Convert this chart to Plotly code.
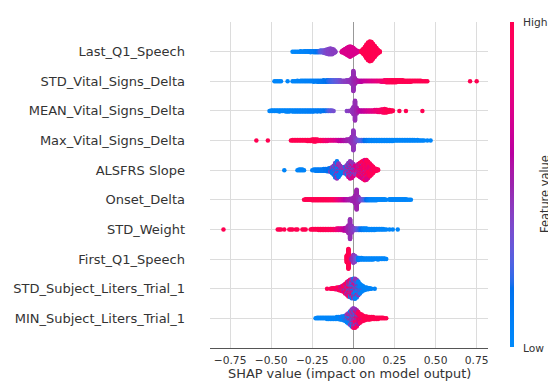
import numpy as np
import plotly.graph_objects as go

# ---------------- data ----------------
# Features, top to bottom
features = [
    "Last_Q1_Speech", "STD_Vital_Signs_Delta", "MEAN_Vital_Signs_Delta",
    "Max_Vital_Signs_Delta", "ALSFRS Slope", "Onset_Delta", "STD_Weight",
    "First_Q1_Speech", "STD_Subject_Liters_Trial_1", "MIN_Subject_Liters_Trial_1",
]
x_ticks = [-0.75, -0.5, -0.25, 0.0, 0.25, 0.5, 0.75]
x_tick_labels = ["\u22120.75", "\u22120.50", "\u22120.25", "0.00", "0.25", "0.50", "0.75"]

# Each entry: (SHAP value, number of samples at that value, feature value 0=low..1=high)
last_q1_speech = [
    (-0.37, 1, 0.02), (-0.36, 1, 0.02), (-0.35, 1, 0.03), (-0.34, 1, 0.03), (-0.33, 1, 0.04),
    (-0.32, 2, 0.04), (-0.31, 1, 0.05), (-0.30, 2, 0.05), (-0.29, 2, 0.06), (-0.28, 2, 0.06),
    (-0.27, 2, 0.07), (-0.26, 3, 0.08), (-0.25, 2, 0.09), (-0.24, 3, 0.10), (-0.23, 3, 0.12),
    (-0.22, 3, 0.15), (-0.21, 3, 0.20), (-0.20, 4, 0.25), (-0.19, 4, 0.30), (-0.18, 5, 0.33),
    (-0.17, 7, 0.36), (-0.16, 9, 0.38), (-0.15, 11, 0.40), (-0.14, 12, 0.40), (-0.13, 11, 0.41),
    (-0.12, 8, 0.42), (-0.11, 3, 0.42),
    (-0.07, 3, 0.72), (-0.06, 6, 0.72), (-0.05, 10, 0.72), (-0.04, 14, 0.72), (-0.03, 18, 0.72),
    (-0.02, 21, 0.72), (-0.01, 18, 0.72), (0.00, 14, 0.72), (0.01, 9, 0.72), (0.02, 5, 0.72),
    (0.03, 2, 0.72),
    (0.05, 4, 1.0), (0.06, 10, 1.0), (0.07, 18, 1.0), (0.08, 28, 1.0), (0.09, 36, 1.0),
    (0.10, 40, 1.0), (0.11, 38, 1.0), (0.12, 30, 1.0), (0.13, 22, 1.0), (0.14, 14, 1.0),
    (0.15, 7, 1.0), (0.16, 3, 1.0),
]
std_vital_signs_delta = [
    (-0.48, 1, 0.03), (-0.47, 1, 0.03), (-0.46, 1, 0.03), (-0.45, 1, 0.03), (-0.44, 1, 0.03),
    (-0.40, 1, 0.03), (-0.37, 1, 0.04), (-0.36, 1, 0.04), (-0.35, 1, 0.04), (-0.34, 2, 0.04),
    (-0.33, 1, 0.05), (-0.32, 2, 0.05), (-0.31, 2, 0.05), (-0.30, 2, 0.05), (-0.29, 2, 0.06),
    (-0.28, 2, 0.06), (-0.27, 2, 0.06), (-0.26, 2, 0.07), (-0.25, 2, 0.07), (-0.24, 3, 0.08),
    (-0.23, 2, 0.08), (-0.22, 3, 0.09), (-0.21, 3, 0.10), (-0.20, 3, 0.11), (-0.19, 3, 0.12),
    (-0.18, 4, 0.14), (-0.17, 3, 0.16), (-0.16, 4, 0.18), (-0.15, 4, 0.20), (-0.14, 4, 0.22),
    (-0.13, 4, 0.24), (-0.12, 4, 0.26), (-0.11, 4, 0.28), (-0.10, 4, 0.30), (-0.09, 4, 0.32),
    (-0.08, 4, 0.35), (-0.07, 3, 0.38), (-0.06, 3, 0.40), (-0.05, 3, 0.42), (-0.04, 4, 0.42),
    (-0.03, 4, 0.44), (-0.02, 6, 0.45), (-0.01, 12, 0.45), (0.00, 40, 0.47), (0.01, 12, 0.50),
    (0.02, 5, 0.52), (0.03, 3, 0.55), (0.04, 3, 0.57), (0.05, 3, 0.60), (0.06, 2, 0.62),
    (0.07, 2, 0.64), (0.08, 2, 0.66), (0.09, 2, 0.68), (0.10, 2, 0.70), (0.11, 2, 0.72),
    (0.12, 2, 0.74), (0.13, 2, 0.76), (0.14, 2, 0.78), (0.15, 2, 0.80), (0.16, 2, 0.82),
    (0.17, 3, 0.84), (0.18, 3, 0.86), (0.19, 4, 0.90), (0.20, 5, 0.93), (0.21, 5, 0.95),
    (0.22, 5, 0.96), (0.23, 5, 0.98), (0.24, 5, 1.0), (0.25, 5, 1.0), (0.26, 5, 1.0),
    (0.27, 4, 1.0), (0.28, 4, 1.0), (0.29, 4, 1.0), (0.30, 4, 1.0), (0.31, 3, 1.0),
    (0.32, 3, 1.0), (0.33, 3, 1.0), (0.34, 3, 1.0), (0.35, 3, 1.0), (0.36, 2, 1.0),
    (0.37, 2, 1.0), (0.38, 2, 1.0), (0.39, 2, 1.0), (0.40, 2, 1.0), (0.41, 2, 1.0),
    (0.42, 1, 1.0), (0.43, 1, 1.0), (0.44, 1, 1.0), (0.45, 1, 1.0), (0.71, 1, 1.0),
    (0.75, 1, 1.0),
]
mean_vital_signs_delta = [
    (-0.51, 1, 0.03), (-0.50, 2, 0.03), (-0.49, 2, 0.03), (-0.48, 2, 0.03), (-0.47, 2, 0.03),
    (-0.46, 2, 0.03), (-0.45, 3, 0.03), (-0.44, 2, 0.04), (-0.43, 2, 0.04), (-0.42, 2, 0.04),
    (-0.41, 3, 0.04), (-0.40, 3, 0.04), (-0.39, 3, 0.05), (-0.38, 2, 0.05), (-0.37, 3, 0.05),
    (-0.36, 3, 0.05), (-0.35, 3, 0.05), (-0.34, 3, 0.06), (-0.33, 3, 0.06), (-0.32, 3, 0.06),
    (-0.31, 3, 0.06), (-0.30, 3, 0.07), (-0.29, 3, 0.07), (-0.28, 3, 0.07), (-0.27, 3, 0.08),
    (-0.26, 3, 0.08), (-0.25, 3, 0.08), (-0.24, 3, 0.09), (-0.23, 2, 0.09), (-0.22, 3, 0.10),
    (-0.21, 2, 0.10), (-0.20, 3, 0.11), (-0.19, 2, 0.12), (-0.18, 2, 0.14), (-0.17, 2, 0.17),
    (-0.16, 2, 0.20), (-0.15, 2, 0.25), (-0.14, 2, 0.30), (-0.13, 2, 0.32), (-0.12, 1, 0.35),
    (-0.04, 1, 0.40), (-0.03, 1, 0.42), (-0.01, 6, 0.45), (0.00, 14, 0.46), (0.01, 40, 0.47),
    (0.02, 12, 0.50), (0.03, 4, 0.55), (0.04, 3, 0.58), (0.05, 3, 0.60), (0.06, 3, 0.62),
    (0.07, 3, 0.65), (0.08, 3, 0.67), (0.09, 3, 0.70), (0.10, 3, 0.72), (0.11, 3, 0.75),
    (0.12, 3, 0.77), (0.13, 4, 0.80), (0.14, 4, 0.82), (0.15, 5, 0.85), (0.16, 5, 0.87),
    (0.17, 6, 0.90), (0.18, 7, 0.92), (0.19, 8, 0.95), (0.20, 7, 0.97), (0.21, 5, 1.0),
    (0.22, 4, 1.0), (0.23, 3, 1.0), (0.24, 2, 1.0), (0.28, 1, 1.0), (0.32, 1, 1.0),
    (0.42, 1, 1.0),
]
max_vital_signs_delta = [
    (-0.59, 1, 1.0), (-0.52, 1, 1.0), (-0.38, 1, 1.0), (-0.37, 2, 1.0), (-0.36, 2, 1.0),
    (-0.35, 2, 1.0), (-0.34, 2, 1.0), (-0.33, 2, 1.0), (-0.32, 2, 1.0), (-0.31, 2, 1.0),
    (-0.30, 2, 1.0), (-0.29, 2, 1.0), (-0.28, 3, 1.0), (-0.27, 3, 1.0), (-0.26, 3, 1.0),
    (-0.25, 4, 1.0), (-0.24, 5, 1.0), (-0.23, 5, 1.0), (-0.22, 4, 0.98), (-0.21, 3, 0.97),
    (-0.20, 3, 0.96), (-0.19, 3, 0.95), (-0.18, 3, 0.90), (-0.17, 3, 0.88), (-0.16, 3, 0.85),
    (-0.15, 2, 0.83), (-0.14, 2, 0.80), (-0.13, 2, 0.78), (-0.12, 2, 0.75), (-0.11, 2, 0.72),
    (-0.10, 2, 0.70), (-0.09, 3, 0.65), (-0.08, 3, 0.62), (-0.07, 3, 0.60), (-0.06, 3, 0.57),
    (-0.05, 3, 0.55), (-0.04, 4, 0.52), (-0.03, 4, 0.50), (-0.02, 6, 0.48), (-0.01, 14, 0.47),
    (0.00, 40, 0.45), (0.01, 10, 0.42), (0.02, 4, 0.38), (0.03, 3, 0.34), (0.04, 3, 0.30),
    (0.05, 3, 0.26), (0.06, 3, 0.22), (0.07, 3, 0.18), (0.08, 3, 0.14), (0.09, 3, 0.10),
    (0.10, 3, 0.06), (0.11, 3, 0.05), (0.12, 3, 0.05), (0.13, 3, 0.04), (0.14, 3, 0.04),
    (0.15, 3, 0.04), (0.16, 3, 0.03), (0.17, 3, 0.03), (0.18, 3, 0.03), (0.19, 3, 0.03),
    (0.20, 3, 0.03), (0.21, 3, 0.03), (0.22, 3, 0.03), (0.23, 3, 0.03), (0.24, 3, 0.03),
    (0.25, 2, 0.03), (0.26, 2, 0.03), (0.27, 2, 0.03), (0.28, 2, 0.03), (0.29, 2, 0.03),
    (0.30, 2, 0.03), (0.31, 2, 0.03), (0.32, 2, 0.03), (0.33, 2, 0.03), (0.34, 2, 0.03),
    (0.35, 2, 0.03), (0.36, 2, 0.03), (0.37, 2, 0.03), (0.38, 1, 0.03), (0.39, 2, 0.03),
    (0.40, 1, 0.03), (0.41, 1, 0.03), (0.42, 1, 0.03), (0.43, 1, 0.03), (0.45, 1, 0.03),
    (0.47, 1, 0.03),
]
alsfrs_slope = [
    (-0.42, 1, 0.05),
    (-0.34, 1, 0.05), (-0.33, 2, 0.05), (-0.32, 2, 0.05), (-0.31, 2, 0.05), (-0.30, 1, 0.05),
    (-0.25, 1, 0.08), (-0.24, 2, 0.08), (-0.23, 3, 0.08), (-0.22, 3, 0.10), (-0.21, 3, 0.10),
    (-0.20, 3, 0.10), (-0.19, 3, 0.12), (-0.18, 4, 0.12), (-0.17, 4, 0.15), (-0.16, 5, 0.15),
    (-0.15, 6, 0.18), (-0.14, 6, 0.15), (-0.14, 2, 0.45), (-0.13, 8, 0.15), (-0.13, 3, 0.45),
    (-0.12, 12, 0.12), (-0.12, 5, 0.45),
    (-0.11, 16, 0.10), (-0.11, 8, 0.45), (-0.11, 3, 0.75),
    (-0.10, 18, 0.10), (-0.10, 10, 0.45), (-0.10, 4, 0.75),
    (-0.09, 14, 0.10), (-0.09, 8, 0.45), (-0.09, 3, 0.75),
    (-0.08, 9, 0.10), (-0.08, 6, 0.45), (-0.08, 2, 0.75),
    (-0.07, 6, 0.10), (-0.07, 5, 0.45),
    (-0.06, 5, 0.10), (-0.06, 5, 0.45),
    (-0.05, 5, 0.10), (-0.05, 6, 0.45), (-0.05, 2, 0.75),
    (-0.04, 6, 0.10), (-0.04, 8, 0.45), (-0.04, 4, 0.75),
    (-0.03, 6, 0.10), (-0.03, 12, 0.45), (-0.03, 8, 0.72),
    (-0.02, 6, 0.10), (-0.02, 14, 0.45), (-0.02, 12, 0.72),
    (-0.01, 5, 0.10), (-0.01, 12, 0.45), (-0.01, 12, 0.72),
    (0.00, 3, 0.10), (0.00, 10, 0.45), (0.00, 10, 0.72),
    (0.01, 2, 0.10), (0.01, 6, 0.45), (0.01, 8, 0.72),
    (0.02, 4, 0.45), (0.02, 8, 0.72), (0.02, 2, 0.97),
    (0.03, 2, 0.10), (0.03, 6, 0.45), (0.03, 8, 0.72), (0.03, 6, 0.97),
    (0.04, 6, 0.45), (0.04, 10, 0.72), (0.04, 10, 0.97),
    (0.05, 4, 0.45), (0.05, 12, 0.72), (0.05, 14, 0.97),
    (0.06, 4, 0.45), (0.06, 12, 0.72), (0.06, 18, 0.97),
    (0.07, 3, 0.45), (0.07, 12, 0.72), (0.07, 22, 0.97),
    (0.08, 2, 0.45), (0.08, 10, 0.72), (0.08, 24, 0.97),
    (0.09, 8, 0.72), (0.09, 22, 0.97),
    (0.10, 6, 0.72), (0.10, 18, 0.97),
    (0.11, 4, 0.72), (0.11, 14, 0.97),
    (0.12, 2, 0.72), (0.12, 10, 0.97),
    (0.13, 6, 0.97), (0.14, 4, 0.97), (0.15, 2, 0.97),
]
onset_delta = [
    (-0.30, 1, 1.0), (-0.29, 2, 1.0), (-0.28, 2, 1.0), (-0.27, 2, 1.0), (-0.26, 2, 1.0),
    (-0.25, 3, 1.0), (-0.24, 3, 1.0), (-0.23, 3, 1.0), (-0.22, 3, 1.0), (-0.21, 3, 1.0),
    (-0.20, 3, 1.0), (-0.19, 3, 1.0), (-0.18, 3, 1.0), (-0.17, 3, 1.0), (-0.16, 3, 0.99),
    (-0.15, 3, 0.98), (-0.14, 3, 0.97), (-0.13, 3, 0.96), (-0.12, 3, 0.95), (-0.11, 3, 0.90),
    (-0.10, 3, 0.85), (-0.09, 3, 0.80), (-0.08, 3, 0.75), (-0.07, 3, 0.70), (-0.06, 3, 0.65),
    (-0.05, 3, 0.60), (-0.04, 3, 0.57), (-0.03, 3, 0.54), (-0.02, 4, 0.52), (-0.01, 5, 0.50),
    (0.00, 8, 0.50), (0.01, 16, 0.50), (0.02, 40, 0.50), (0.03, 12, 0.48), (0.04, 4, 0.42),
    (0.05, 3, 0.36), (0.06, 3, 0.30), (0.07, 3, 0.24), (0.08, 3, 0.18), (0.09, 3, 0.12),
    (0.10, 3, 0.08), (0.11, 3, 0.05), (0.12, 3, 0.04), (0.13, 3, 0.04), (0.14, 3, 0.03),
    (0.15, 2, 0.03), (0.16, 2, 0.03), (0.17, 2, 0.03), (0.18, 2, 0.03), (0.19, 2, 0.03),
    (0.20, 1, 0.03), (0.22, 2, 0.03), (0.23, 2, 0.03), (0.24, 2, 0.03), (0.25, 2, 0.03),
    (0.26, 2, 0.03), (0.27, 2, 0.03), (0.28, 2, 0.03), (0.29, 2, 0.03), (0.30, 2, 0.03),
    (0.31, 2, 0.03), (0.32, 2, 0.03), (0.33, 1, 0.03), (0.34, 1, 0.03), (0.35, 1, 0.03),
]
std_weight = [
    (-0.79, 1, 1.0), (-0.46, 1, 1.0), (-0.45, 1, 1.0), (-0.44, 1, 1.0), (-0.42, 1, 1.0),
    (-0.39, 1, 1.0), (-0.38, 1, 1.0), (-0.37, 1, 1.0), (-0.35, 1, 1.0), (-0.34, 1, 1.0),
    (-0.31, 1, 1.0), (-0.30, 1, 1.0), (-0.29, 1, 1.0), (-0.26, 1, 1.0), (-0.25, 2, 1.0),
    (-0.24, 2, 1.0), (-0.23, 2, 1.0), (-0.22, 2, 1.0), (-0.21, 3, 1.0), (-0.20, 3, 1.0),
    (-0.19, 3, 1.0), (-0.18, 3, 1.0), (-0.17, 3, 0.99), (-0.16, 3, 0.98), (-0.15, 3, 0.97),
    (-0.14, 3, 0.96), (-0.13, 3, 0.95), (-0.12, 3, 0.93), (-0.11, 3, 0.90), (-0.10, 4, 0.85),
    (-0.09, 4, 0.80), (-0.08, 4, 0.75), (-0.07, 4, 0.70), (-0.06, 5, 0.65), (-0.05, 6, 0.60),
    (-0.04, 8, 0.55), (-0.03, 16, 0.50), (-0.02, 40, 0.47), (-0.01, 14, 0.45), (0.00, 6, 0.42),
    (0.01, 4, 0.38), (0.02, 4, 0.32), (0.03, 4, 0.26), (0.04, 4, 0.20), (0.05, 4, 0.14),
    (0.06, 4, 0.08), (0.07, 4, 0.05), (0.08, 4, 0.04), (0.09, 3, 0.04), (0.10, 3, 0.03),
    (0.11, 3, 0.03), (0.12, 3, 0.03), (0.13, 3, 0.03), (0.14, 2, 0.03), (0.15, 2, 0.03),
    (0.16, 2, 0.03), (0.17, 2, 0.03), (0.18, 2, 0.03), (0.19, 1, 0.03), (0.20, 1, 0.03),
    (0.22, 1, 0.03), (0.24, 1, 0.03), (0.27, 1, 0.03),
]
first_q1_speech = [
    (-0.04, 14, 1.0), (-0.03, 40, 1.0), (-0.02, 10, 0.95),
    (-0.01, 5, 0.50), (0.00, 16, 0.45), (0.01, 12, 0.40), (0.02, 6, 0.30),
    (0.03, 5, 0.10), (0.04, 4, 0.06), (0.05, 4, 0.05), (0.06, 3, 0.04), (0.07, 3, 0.04),
    (0.08, 3, 0.03), (0.09, 3, 0.03), (0.10, 3, 0.03), (0.11, 3, 0.03), (0.12, 3, 0.03),
    (0.13, 2, 0.03), (0.14, 2, 0.03), (0.15, 3, 0.03), (0.16, 2, 0.03), (0.17, 2, 0.03),
    (0.18, 2, 0.03), (0.19, 2, 0.03), (0.20, 1, 0.03),
]
std_subject_liters_trial_1 = [
    (-0.16, 1, 0.97), (-0.14, 1, 0.97), (-0.13, 2, 0.97), (-0.12, 2, 0.97), (-0.11, 3, 0.97),
    (-0.10, 3, 0.97), (-0.10, 1, 0.72),
    (-0.09, 4, 0.97), (-0.09, 1, 0.72),
    (-0.08, 5, 0.97), (-0.08, 2, 0.72),
    (-0.07, 6, 0.97), (-0.07, 2, 0.72), (-0.07, 1, 0.05),
    (-0.06, 8, 0.97), (-0.06, 3, 0.72), (-0.06, 1, 0.05),
    (-0.05, 10, 0.97), (-0.05, 4, 0.72), (-0.05, 2, 0.45), (-0.05, 1, 0.05),
    (-0.04, 12, 0.97), (-0.04, 5, 0.72), (-0.04, 3, 0.45), (-0.04, 2, 0.05),
    (-0.03, 12, 0.97), (-0.03, 6, 0.72), (-0.03, 5, 0.45), (-0.03, 4, 0.05),
    (-0.02, 10, 0.97), (-0.02, 6, 0.72), (-0.02, 7, 0.45), (-0.02, 7, 0.05),
    (-0.01, 8, 0.97), (-0.01, 6, 0.72), (-0.01, 9, 0.45), (-0.01, 10, 0.05),
    (0.00, 5, 0.97), (0.00, 5, 0.72), (0.00, 10, 0.45), (0.00, 14, 0.05),
    (0.01, 3, 0.97), (0.01, 4, 0.72), (0.01, 10, 0.45), (0.01, 18, 0.05),
    (0.02, 2, 0.97), (0.02, 3, 0.72), (0.02, 8, 0.45), (0.02, 18, 0.05),
    (0.03, 2, 0.72), (0.03, 6, 0.45), (0.03, 16, 0.05),
    (0.04, 4, 0.45), (0.04, 13, 0.05),
    (0.05, 2, 0.45), (0.05, 10, 0.05),
    (0.06, 1, 0.45), (0.06, 7, 0.05),
    (0.07, 5, 0.05), (0.08, 4, 0.05), (0.09, 3, 0.05), (0.10, 2, 0.05), (0.11, 1, 0.05),
    (0.13, 1, 0.05),
]
min_subject_liters_trial_1 = [
    (-0.23, 1, 0.03), (-0.22, 2, 0.03), (-0.21, 2, 0.03), (-0.20, 2, 0.03), (-0.19, 2, 0.03),
    (-0.18, 2, 0.03), (-0.17, 2, 0.03), (-0.16, 3, 0.03), (-0.15, 3, 0.03), (-0.14, 3, 0.03),
    (-0.13, 3, 0.04), (-0.12, 3, 0.04), (-0.11, 3, 0.04), (-0.10, 4, 0.05), (-0.09, 4, 0.05),
    (-0.08, 5, 0.05),
    (-0.07, 5, 0.05), (-0.07, 1, 0.45),
    (-0.06, 6, 0.05), (-0.06, 1, 0.45),
    (-0.05, 7, 0.05), (-0.05, 2, 0.45),
    (-0.04, 9, 0.05), (-0.04, 3, 0.45), (-0.04, 1, 0.95),
    (-0.03, 10, 0.05), (-0.03, 5, 0.45), (-0.03, 2, 0.95),
    (-0.02, 10, 0.05), (-0.02, 8, 0.45), (-0.02, 4, 0.95),
    (-0.01, 10, 0.05), (-0.01, 12, 0.45), (-0.01, 6, 0.95),
    (0.00, 8, 0.05), (0.00, 14, 0.45), (0.00, 10, 0.92),
    (0.01, 5, 0.05), (0.01, 12, 0.45), (0.01, 14, 0.92),
    (0.02, 3, 0.05), (0.02, 8, 0.50), (0.02, 16, 0.92),
    (0.03, 1, 0.05), (0.03, 5, 0.55), (0.03, 14, 0.95),
    (0.04, 3, 0.60), (0.04, 12, 0.97),
    (0.05, 2, 0.65), (0.05, 10, 0.97),
    (0.06, 1, 0.70), (0.06, 8, 0.98),
    (0.07, 7, 1.0), (0.08, 6, 1.0), (0.09, 5, 1.0), (0.10, 5, 1.0), (0.11, 4, 1.0),
    (0.12, 4, 1.0), (0.13, 3, 1.0), (0.14, 3, 1.0), (0.15, 3, 1.0), (0.16, 2, 1.0),
    (0.17, 2, 1.0), (0.18, 2, 1.0), (0.19, 1, 1.0), (0.20, 1, 1.0),
]

feature_data = [
    last_q1_speech, std_vital_signs_delta, mean_vital_signs_delta, max_vital_signs_delta,
    alsfrs_slope, onset_delta, std_weight, first_q1_speech,
    std_subject_liters_trial_1, min_subject_liters_trial_1,
]

# ---------------- colormap (SHAP red_blue, LCH interpolation) ----------------
def lch2rgb(l, c, h):
    a, b = c * np.cos(h), c * np.sin(h)
    fy = (l + 16) / 116.0
    fx = fy + a / 500.0
    fz = fy - b / 200.0
    def finv(t):
        return t ** 3 if t > 6 / 29 else 3 * (6 / 29) ** 2 * (t - 4 / 29)
    X, Y, Z = 0.95047 * finv(fx), 1.0 * finv(fy), 1.08883 * finv(fz)
    r = 3.2406 * X - 1.5372 * Y - 0.4986 * Z
    g = -0.9689 * X + 1.8758 * Y + 0.0415 * Z
    bb = 0.0557 * X - 0.2040 * Y + 1.0570 * Z
    out = []
    for ch in (r, g, bb):
        ch = ch * 12.92 if ch <= 0.0031308 else 1.055 * ch ** (1 / 2.4) - 0.055
        out.append(int(round(min(max(ch, 0), 1) * 255)))
    return out

blue_lch = (54.0, 70.0, 4.6588)
red_lch = (54.0, 90.0, 0.35470565 + 2 * np.pi)
l_mid = 40.0
nsteps = 100
l_vals = list(np.linspace(blue_lch[0], l_mid, nsteps // 2)) + list(np.linspace(l_mid, red_lch[0], nsteps // 2))
c_vals = np.linspace(blue_lch[1], red_lch[1], nsteps)
h_vals = np.linspace(blue_lch[2], red_lch[2], nsteps)
colorscale = []
for i, pos in enumerate(np.linspace(0, 1, nsteps)):
    r, g, b = lch2rgb(l_vals[i], c_vals[i], h_vals[i])
    colorscale.append([float(pos), f"rgb({r},{g},{b})"])

# ---------------- beeswarm layout ----------------
n_feat = len(features)
row_height = 0.4

def swarm(entries, row):
    cols = {}
    for v, n, f in entries:
        cols.setdefault(v, []).append((n, f))
    placed = []
    for v in sorted(cols):
        pts = []
        for n, f in cols[v]:
            for j in range(n):
                pts.append(((j + 0.5) / n, f))
        pts.sort(key=lambda p: p[0])
        for k, (_, f) in enumerate(pts):
            off = np.ceil(k / 2) * (1 if k % 2 else -1)
            placed.append((v, off, f))
    max_off = max(p[1] for p in placed)
    scale = 0.9 * row_height / (max_off + 1)
    xs = [p[0] for p in placed]
    ys = [row + p[1] * scale for p in placed]
    cs = [p[2] for p in placed]
    return xs, ys, cs

fig = go.Figure()
all_x, all_y, all_c = [], [], []
for i, entries in enumerate(feature_data):
    row = n_feat - 1 - i
    xs, ys, cs = swarm(entries, row)
    all_x += xs
    all_y += ys
    all_c += cs

# The page body adds an 8px margin, so the figure is laid out 8px smaller/shifted.
OFF = 8
W, H = 556 - OFF, 381 - OFF
PL, PR, PT, PB = 210 - OFF, 488 - OFF, 22 - OFF, 348 - OFF
grid = "#dcdcdc"
txt = "#333333"

def px_x(px):
    return (px - OFF - PL) / (PR - PL)

def px_y(py):
    return (PB - (py - OFF)) / (PB - PT)

fig.add_trace(go.Scatter(
    x=all_x, y=all_y, mode="markers", hoverinfo="skip",
    marker=dict(
        size=4.5, color=all_c, colorscale=colorscale, cmin=0, cmax=1,
        line=dict(width=0), opacity=1,
        colorbar=dict(
            thickness=4, len=(347.5 - 22.5) / (PB - PT), lenmode="fraction",
            x=px_x(510), xanchor="left", xpad=0, ypad=0,
            y=px_y(185), yanchor="middle", outlinewidth=0, showticklabels=False, ticks="",
        ),
    ),
    showlegend=False,
))

fig.update_layout(
    width=W, height=H,
    margin=dict(l=PL, r=W - PR, t=PT, b=H - PB, autoexpand=False),
    plot_bgcolor="white", paper_bgcolor="white",
    font=dict(family="DejaVu Sans", color=txt),
    xaxis=dict(
        range=[-0.872, 0.819], tickvals=x_ticks, ticktext=x_tick_labels,
        showgrid=True, gridcolor=grid, gridwidth=1,
        zeroline=True, zerolinecolor="#999999", zerolinewidth=1,
        showline=True, linecolor="#555555", linewidth=1,
        ticks="", tickfont=dict(size=10.7, color=txt), ticklabelstandoff=2,
        automargin=False,
    ),
    yaxis=dict(
        range=[-1, n_feat], tickvals=list(range(n_feat)),
        ticktext=list(reversed(features)),
        showgrid=True, gridcolor=grid, gridwidth=1, zeroline=False,
        showline=False, ticks="", tickfont=dict(size=13.0, color=txt),
        ticklabelstandoff=24, automargin=False,
    ),
    annotations=[
        dict(text="SHAP value (impact on model output)", xref="paper", yref="paper",
             x=0.5, y=px_y(373), xanchor="center", yanchor="middle", showarrow=False,
             font=dict(size=12.9, color=txt)),
        dict(text="High", xref="paper", yref="paper", x=px_x(521), y=px_y(23),
             xanchor="left", yanchor="middle", showarrow=False, font=dict(size=10.7, color=txt)),
        dict(text="Low", xref="paper", yref="paper", x=px_x(521), y=px_y(348),
             xanchor="left", yanchor="middle", showarrow=False, font=dict(size=10.7, color=txt)),
        dict(text="Feature value", xref="paper", yref="paper", x=px_x(545), y=px_y(194),
             xanchor="center", yanchor="middle", textangle=-90, showarrow=False,
             borderpad=0, font=dict(size=11.4, color=txt)),
    ],
)

fig.write_html("out.html")
